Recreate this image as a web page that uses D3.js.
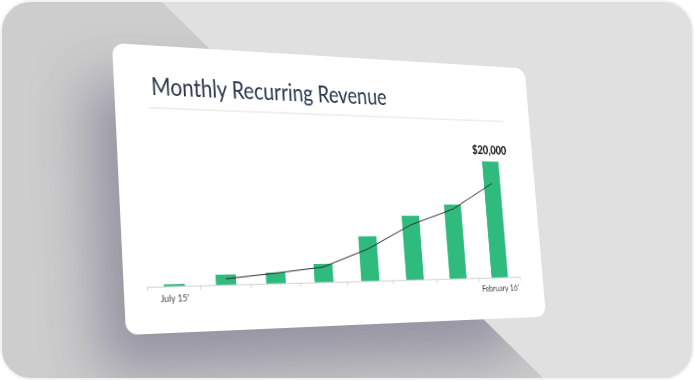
<!DOCTYPE html>
<html><head><meta charset="utf-8">
<script src="https://cdn.jsdelivr.net/npm/d3@7"></script>
<style>
html,body{margin:0;padding:0;background:#fff;}
#stage{position:relative;width:694px;height:380px;overflow:hidden;}
#bg{position:absolute;left:0;top:0;}
#card{position:absolute;left:0;top:0;transform-origin:0 0;width:484px;height:284px;}
#card svg{display:block;}
text{font-family:"Source Sans Pro","Lato","Open Sans",sans-serif;}
</style></head><body>
<div id="stage"><svg id="bg" width="694" height="380"></svg><div id="card"></div></div>
<script>
// ---- data ----
const title = "Monthly Recurring Revenue";
const categories = ["2015-07","2015-08","2015-09","2015-10","2015-11","2015-12","2016-01","2016-02"];
const tickLabels = ["July 15'","","","","","","","February 16'"];
const revenue = [300, 1560, 1700, 2900, 7250, 10600, 12500, 20000];
const trend = [null, 900, 1600, 2400, 5200, 9100, 11700, 16200];
const highlight = {index: 7, label: "$20,000"};
const yMax = 20000;

// ---- layout ----
const W = 484, H = 284;                 // flat card size
const quad = [[112,43],[524.5,68.5],[546,316.5],[126,335]]; // card corners on screen
const axisY = 238.8, plotTop = 109.2, plotLeft = 23.7, plotRight = 453.7;

// projective transform of the flat card onto the quad
function matrixFor(q){
  const [x0,y0]=q[0],[x1,y1]=q[1],[x2,y2]=q[2],[x3,y3]=q[3];
  const dx1=x1-x2, dx2=x3-x2, dx3=x0-x1+x2-x3;
  const dy1=y1-y2, dy2=y3-y2, dy3=y0-y1+y2-y3;
  const den=dx1*dy2-dy1*dx2;
  const g=(dx3*dy2-dy3*dx2)/den, h=(dx1*dy3-dy1*dx3)/den;
  const a=x1-x0+g*x1, b=x3-x0+h*x3, c=x0;
  const d=y1-y0+g*y1, e=y3-y0+h*y3, f=y0;
  const m=[a/W, d/W, 0, g/W, b/H, e/H, 0, h/H, 0,0,1,0, c, f, 0, 1];
  return "matrix3d("+m.join(",")+")";
}

// ---- background ----
const bg = d3.select("#bg");
const defs = bg.append("defs");
defs.append("clipPath").attr("id","frameClip").append("rect")
  .attr("x",1).attr("y",1).attr("width",692).attr("height",378).attr("rx",30);
defs.append("clipPath").attr("id","diagClip").append("polygon")
  .attr("points","0,0 160,0 545,380 0,380");
defs.append("filter").attr("id","blur").attr("x","-50%").attr("y","-50%").attr("width","200%").attr("height","200%")
  .append("feGaussianBlur").attr("stdDeviation",28);

bg.append("rect").attr("x",1).attr("y",1).attr("width",692).attr("height",378).attr("rx",30)
  .attr("fill","#e0e0e0");
const inner = bg.append("g").attr("clip-path","url(#frameClip)")
  .append("g").attr("clip-path","url(#diagClip)");
inner.append("rect").attr("width",694).attr("height",380).attr("fill","#cdcdcd");
inner.append("polygon")
  .attr("points", quad.map(p=>[p[0]-25,p[1]+38].join(",")).join(" "))
  .attr("fill","#6c6981").attr("opacity",0.58).attr("filter","url(#blur)");
bg.append("rect").attr("x",1).attr("y",1).attr("width",692).attr("height",378).attr("rx",30)
  .attr("fill","none").attr("stroke","#f3f3f3").attr("stroke-width",2);

// ---- card ----
d3.select("#card").style("transform", matrixFor(quad));
const svg = d3.select("#card").append("svg").attr("width",W).attr("height",H);
svg.append("rect").attr("width",W).attr("height",H).attr("rx",12).attr("fill","#ffffff");

svg.append("text").attr("x",37.6).attr("y",50.1)
  .attr("font-size",24.5).attr("fill","#28354a")
  .attr("textLength",263).attr("lengthAdjust","spacingAndGlyphs")
  .text(title);
svg.append("line").attr("x1",34).attr("x2",449).attr("y1",63).attr("y2",63)
  .attr("stroke","#e0e0e0").attr("stroke-width",1);

const x = d3.scaleBand().domain(categories).range([plotLeft,plotRight])
  .paddingInner(0.6).paddingOuter(0.3);
const y = d3.scaleLinear().domain([0,yMax]).range([axisY,plotTop]);

// axis
svg.append("line").attr("x1",plotLeft).attr("x2",plotRight).attr("y1",axisY+0.5).attr("y2",axisY+0.5)
  .attr("stroke","#d0d0d0");
const bounds = d3.range(categories.length+1).map(i=>x.range()[0]+i*x.step());
svg.selectAll(".tick").data(bounds).join("line")
  .attr("x1",d=>d).attr("x2",d=>d).attr("y1",axisY).attr("y2",axisY+4)
  .attr("stroke","#d0d0d0");

// bars
svg.selectAll(".bar").data(revenue).join("rect")
  .attr("x",(d,i)=>x(categories[i])).attr("width",x.bandwidth())
  .attr("y",d=>y(d)).attr("height",d=>axisY-y(d))
  .attr("fill","#2fba7e");

// trend line
const line = d3.line().defined(d=>d!=null)
  .x((d,i)=>x(categories[i])+x.bandwidth()/2).y(d=>y(d));
svg.append("path").datum(trend).attr("d",line)
  .attr("fill","none").attr("stroke","#2b2b2b").attr("stroke-width",1);

// labels
svg.selectAll(".xl").data(tickLabels.map((t,i)=>({t,i})).filter(d=>d.t)).join("text")
  .attr("x",d=>x(categories[d.i])+x.bandwidth()/2).attr("y",axisY+15.4)
  .attr("text-anchor","middle").attr("font-size",10).attr("fill","#444")
  .text(d=>d.t)
  .each(function(){ const l=this.getComputedTextLength(); this.setAttribute("textLength",l*0.88); this.setAttribute("lengthAdjust","spacingAndGlyphs"); });

svg.append("text")
  .attr("x",x(categories[highlight.index])+x.bandwidth()/2)
  .attr("y",y(revenue[highlight.index])-8)
  .attr("text-anchor","middle").attr("font-size",13.5).attr("font-weight",900).attr("fill","#1e1e1e")
  .text(highlight.label)
  .each(function(){ const l=this.getComputedTextLength(); this.setAttribute("textLength",Math.min(l,45)); this.setAttribute("lengthAdjust","spacingAndGlyphs"); });
</script>
</body></html>
